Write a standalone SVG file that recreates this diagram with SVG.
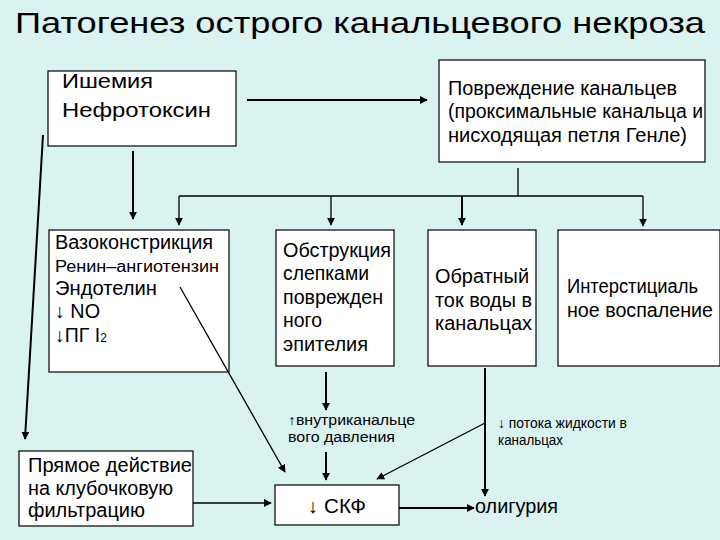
<svg xmlns="http://www.w3.org/2000/svg" width="720" height="540" viewBox="0 0 720 540">
<defs>
<style>
.box{fill:#fff;stroke:#000;stroke-width:1.2}
text{font-family:"Liberation Sans",Arial,sans-serif;fill:#000}
.t{font-size:19.5px}
.s{font-size:14px}
.c{stroke:#000;stroke-width:1.3;fill:none}
.b{stroke:#000;stroke-width:2;fill:none}
</style>
<marker id="ah" viewBox="0 0 10 10" refX="9" refY="5" markerWidth="8" markerHeight="8" markerUnits="userSpaceOnUse" orient="auto"><path d="M0,0 L10,5 L0,10 z" fill="#000"/></marker>
</defs>
<rect width="720" height="540" fill="#daf2f0"/>
<text x="15" y="33" font-size="30" textLength="690" lengthAdjust="spacingAndGlyphs">Патогенез острого канальцевого некроза</text>

<g id="n-ischemia">
<rect class="box" x="48" y="71" width="188" height="75"/>
<text class="t" x="62" y="88" font-size="20" textLength="91" lengthAdjust="spacingAndGlyphs">Ишемия</text>
<text class="t" x="62" y="117" font-size="20" textLength="149" lengthAdjust="spacingAndGlyphs">Нефротоксин</text>
</g>

<g id="n-damage">
<rect class="box" x="439" y="60" width="266" height="102"/>
<text class="t" x="448" y="95" textLength="229" lengthAdjust="spacingAndGlyphs">Повреждение канальцев</text>
<text class="t" x="448" y="118" textLength="255" lengthAdjust="spacingAndGlyphs">(проксимальные канальца и</text>
<text class="t" x="448" y="142" textLength="239" lengthAdjust="spacingAndGlyphs">нисходящая петля Генле)</text>
</g>

<g id="n-vaso">
<rect class="box" x="49" y="230" width="180" height="142"/>
<text class="t" x="55" y="249" textLength="158" lengthAdjust="spacingAndGlyphs">Вазоконстрикция</text>
<text x="55" y="272" font-size="16" textLength="164" lengthAdjust="spacingAndGlyphs">Ренин–ангиотензин</text>
<text class="t" x="55" y="295" textLength="102" lengthAdjust="spacingAndGlyphs">Эндотелин</text>
<text class="t" x="55" y="318" textLength="45" lengthAdjust="spacingAndGlyphs">↓ NO</text>
<text class="t" x="55" y="342">↓ПГ I<tspan font-size="12">2</tspan></text>
</g>

<g id="n-obstr">
<rect class="box" x="276" y="230" width="118" height="136"/>
<text class="t" x="283" y="257" textLength="108" lengthAdjust="spacingAndGlyphs">Обструкция</text>
<text class="t" x="283" y="280" textLength="86" lengthAdjust="spacingAndGlyphs">слепками</text>
<text class="t" x="283" y="304" textLength="100" lengthAdjust="spacingAndGlyphs">поврежден</text>
<text class="t" x="283" y="327" textLength="39" lengthAdjust="spacingAndGlyphs">ного</text>
<text class="t" x="283" y="351" textLength="85" lengthAdjust="spacingAndGlyphs">эпителия</text>
</g>

<g id="n-backflow">
<rect class="box" x="428" y="230" width="108" height="136"/>
<text class="t" x="435" y="283" textLength="94" lengthAdjust="spacingAndGlyphs">Обратный</text>
<text class="t" x="435" y="307" textLength="97" lengthAdjust="spacingAndGlyphs">ток воды в</text>
<text class="t" x="435" y="330" textLength="97" lengthAdjust="spacingAndGlyphs">канальцах</text>
</g>

<g id="n-inflam">
<rect class="box" x="558" y="230" width="162" height="136"/>
<text class="t" x="567" y="293" textLength="131" lengthAdjust="spacingAndGlyphs">Интерстициаль</text>
<text class="t" x="567" y="317" textLength="146" lengthAdjust="spacingAndGlyphs">ное воспаление</text>
</g>

<g id="n-pressure">
<text class="s" x="288" y="425" textLength="127" lengthAdjust="spacingAndGlyphs">↑внутриканальце</text>
<text class="s" x="288" y="442" textLength="107" lengthAdjust="spacingAndGlyphs">вого давления</text>
</g>

<g id="n-flow">
<text class="s" x="498" y="428" textLength="129" lengthAdjust="spacingAndGlyphs">↓ потока жидкости в</text>
<text class="s" x="498" y="445" textLength="65" lengthAdjust="spacingAndGlyphs">канальцах</text>
</g>

<g id="n-direct">
<rect class="box" x="19" y="451" width="174" height="75"/>
<text class="t" x="28" y="472" textLength="164" lengthAdjust="spacingAndGlyphs">Прямое действие</text>
<text class="t" x="28" y="495" textLength="145" lengthAdjust="spacingAndGlyphs">на клубочковую</text>
<text class="t" x="28" y="517" textLength="117" lengthAdjust="spacingAndGlyphs">фильтрацию</text>
</g>

<g id="n-gfr">
<rect class="box" x="275" y="485" width="124" height="40"/>
<text class="t" x="308" y="513" font-size="20" textLength="58" lengthAdjust="spacingAndGlyphs">↓ СКФ</text>
</g>

<g id="n-oliguria">
<text class="t" x="475" y="513" font-size="20" textLength="83" lengthAdjust="spacingAndGlyphs">олигурия</text>
</g>

<g id="connectors">
<path class="b" d="M247,100 H427" marker-end="url(#ah)"/>
<path class="b" d="M133,151 V219" marker-end="url(#ah)"/>
<path class="c" d="M518,168 V196"/>
<path class="c" d="M179,196 H643"/>
<path class="c" d="M179,196 V225" marker-end="url(#ah)"/>
<path class="c" d="M331,196 V225" marker-end="url(#ah)"/>
<path class="b" d="M462,196 V225" marker-end="url(#ah)"/>
<path class="c" d="M643,196 V226" marker-end="url(#ah)"/>
<path class="b" d="M43,135 L25,439" marker-end="url(#ah)"/>
<path class="c" d="M180,287 L285,472" marker-end="url(#ah)"/>
<path class="b" d="M326,372 V410" marker-end="url(#ah)"/>
<path class="b" d="M326,452 V480" marker-end="url(#ah)"/>
<path class="b" d="M485,368 V496" marker-end="url(#ah)"/>
<path class="c" d="M485,423 L377,479" marker-end="url(#ah)"/>
<path class="c" d="M193,503 H271" marker-end="url(#ah)"/>
<path class="b" d="M399,508 H474" marker-end="url(#ah)"/>
</g>
</svg>
